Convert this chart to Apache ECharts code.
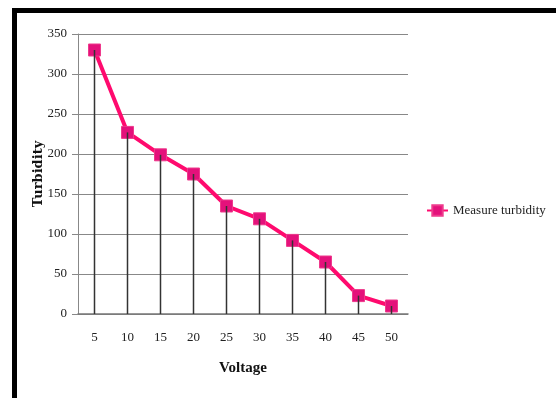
<!DOCTYPE html>
<html>
<head>
<meta charset="utf-8">
<script src="https://cdn.jsdelivr.net/npm/echarts@6/dist/echarts.min.js"></script>
<style>
  html, body { margin: 0; padding: 0; background: #fff; }
  #chart { width: 556px; height: 398px; }
</style>
</head>
<body>
<div id="chart"></div>
<script>
// Voltage steps (x categories) and measured turbidity at each step
const voltages = ['5', '10', '15', '20', '25', '30', '35', '40', '45', '50'];
const turbidity = [330, 227, 199, 175, 135, 119, 92, 65, 23, 10];
const seriesName = 'Measure turbidity';
const yTicks = { min: 0, max: 350, step: 50 };

const serif = '"Liberation Serif", "Times New Roman", serif';

const chart = echarts.init(document.getElementById('chart'), null, { renderer: 'canvas' });

chart.setOption({
  animation: false,
  backgroundColor: '#ffffff',
  grid: { left: 78, right: 148, top: 34, bottom: 84, containLabel: false },
  legend: {
    data: [seriesName],
    left: 421,
    top: 199,
    itemWidth: 21,
    itemHeight: 13,
    itemGap: 2,
    textStyle: { fontFamily: serif, fontSize: 13, color: '#222' }
  },
  graphic: [
    { type: 'rect', shape: { x: 12, y: 8, width: 5, height: 390 }, style: { fill: '#000' }, silent: true },
    { type: 'rect', shape: { x: 12, y: 8, width: 544, height: 5 }, style: { fill: '#000' }, silent: true }
  ],
  xAxis: {
    type: 'category',
    data: voltages,
    boundaryGap: true,
    name: 'Voltage',
    nameLocation: 'middle',
    nameGap: 47,
    nameTextStyle: { fontFamily: serif, fontSize: 15, fontWeight: 'bold', color: '#111' },
    axisLine: { show: true, lineStyle: { color: '#777', width: 1.5 } },
    axisTick: { show: false },
    axisLabel: { fontFamily: serif, fontSize: 13, color: '#222', margin: 17 },
    splitLine: { show: false }
  },
  yAxis: {
    type: 'value',
    min: yTicks.min,
    max: yTicks.max,
    interval: yTicks.step,
    name: 'Turbidity',
    nameLocation: 'middle',
    nameRotate: 90,
    nameGap: 33,
    nameMoveOverlap: false,
    nameTextStyle: { fontFamily: '"DejaVu Serif", serif', fontSize: 13, fontWeight: 'bold', color: '#111' },
    axisLine: { show: true, lineStyle: { color: '#888', width: 1 } },
    axisTick: { show: true, inside: false, length: 6, lineStyle: { color: '#888' } },
    axisLabel: { fontFamily: serif, fontSize: 13, color: '#222', margin: 11 },
    splitLine: { show: true, lineStyle: { color: '#888', width: 1.2 } }
  },
  series: [
    {
      name: seriesName,
      type: 'line',
      data: turbidity,
      symbol: 'rect',
      symbolSize: 12,
      z: 3,
      lineStyle: { color: '#ff0a6e', width: 4 },
      itemStyle: { color: '#e4117b', borderColor: '#ee3a8c', borderWidth: 1 }
    },
    {
      // drop lines from each measurement down to the axis
      name: 'drop',
      type: 'bar',
      data: turbidity,
      barWidth: 1.5,
      z: 4,
      itemStyle: { color: '#333' },
      legendHoverLink: false,
      silent: true
    }
  ]
});
</script>
</body>
</html>
